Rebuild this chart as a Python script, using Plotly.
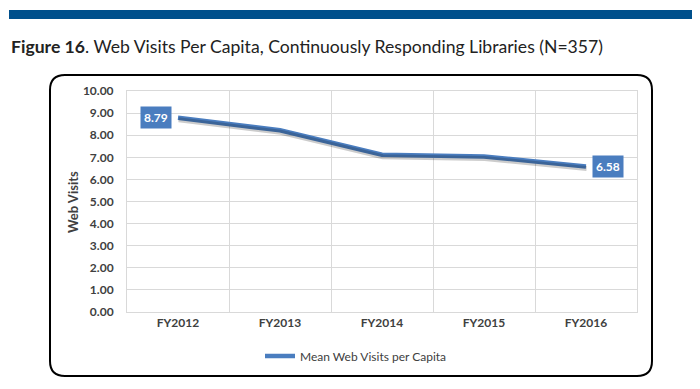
import plotly.graph_objects as go

categories = ["FY2012", "FY2013", "FY2014", "FY2015", "FY2016"]
mean_web_visits = [8.79, 8.22, 7.12, 7.04, 6.58]
y_ticks = [0, 1, 2, 3, 4, 5, 6, 7, 8, 9, 10]
series_name = "Mean Web Visits per Capita"

OFF = 8  # page body margin added by the browser
W, H = 700 - OFF, 389 - OFF
L, R, T, B = 127 - OFF, 637 - OFF, 91 - OFF, 312 - OFF  # plot area (figure px)
pw, ph = R - L, B - T

def px(x):  # reference page x -> paper
    return (x - OFF - L) / pw

def py(y):  # reference page y -> paper
    return (B - (y - OFF)) / ph

LINE = "#4a7dbf"
fig = go.Figure()

# subtle shadow on overlaid axes (same data)
fig.add_trace(go.Scatter(
    x=list(range(len(categories))), y=mean_web_visits, mode="lines",
    line=dict(color="rgba(0,0,0,0.2)", width=5), xaxis="x2", yaxis="y2",
    showlegend=False, hoverinfo="skip"))

fig.add_trace(go.Scatter(
    x=categories, y=mean_web_visits, mode="lines", name=series_name,
    line=dict(color=LINE, width=4.5)))

# rounded outer box
x0, x1, y0, y1, r = 50, 652, 75, 376, 15
def P(x, y):
    return f"{px(x):.5f},{py(y):.5f}"
path = (f"M {P(x0+r,y0)} L {P(x1-r,y0)} Q {P(x1,y0)} {P(x1,y0+r)} "
        f"L {P(x1,y1-r)} Q {P(x1,y1)} {P(x1-r,y1)} L {P(x0+r,y1)} "
        f"Q {P(x0,y1)} {P(x0,y1-r)} L {P(x0,y0+r)} Q {P(x0,y0)} {P(x0+r,y0)} Z")
fig.add_shape(type="path", path=path, xref="paper", yref="paper",
              line=dict(color="#000000", width=2), layer="below")
# top blue bar
fig.add_shape(type="rect", xref="paper", yref="paper",
              x0=px(9), x1=px(693), y0=py(10), y1=py(19),
              fillcolor="#00508c", line=dict(width=0))

# title
fig.add_annotation(xref="paper", yref="paper", x=px(9), y=py(46),
                   xanchor="left", yanchor="middle", showarrow=False,
                   text="<b>Figure 16</b>. Web Visits Per Capita, Continuously Responding Libraries (N=357)",
                   font=dict(family="Lato", size=17.6, color="#222222"))

# y-axis title
fig.add_annotation(xref="paper", yref="paper", x=px(73), y=py(202),
                   xanchor="center", yanchor="middle", showarrow=False,
                   textangle=-90, text="<b>Web Visits</b>",
                   font=dict(family="Lato", size=13, color="#404040"))

# data labels
fig.add_annotation(x=categories[0], y=mean_web_visits[0], xanchor="right",
                   xshift=-6, showarrow=False, text=f"<b>{mean_web_visits[0]:.2f}</b>",
                   bgcolor=LINE, borderpad=3,
                   font=dict(family="Lato", size=12, color="white"))
fig.add_annotation(x=categories[-1], y=mean_web_visits[-1], xanchor="left",
                   xshift=6, showarrow=False, text=f"<b>{mean_web_visits[-1]:.2f}</b>",
                   bgcolor=LINE, borderpad=3,
                   font=dict(family="Lato", size=12, color="white"))

fig.update_layout(
    width=W, height=H, paper_bgcolor="white", plot_bgcolor="white",
    margin=dict(l=L, r=W - R, t=T, b=H - B),
    font=dict(family="Lato", color="#404040"),
    xaxis=dict(type="category", range=[-0.5, 4.5], tickson="boundaries",
               showgrid=True, gridcolor="#d9d9d9", gridwidth=1,
               showline=True, linecolor="#d9d9d9", mirror=True,
               ticks="", ticklen=0, tickfont=dict(size=12, color="#404040"),
               tickprefix="<b>", ticksuffix="</b>", zeroline=False),
    yaxis=dict(range=[0, 10], tickvals=y_ticks,
               ticktext=[f"<b>{v:.2f}</b>" for v in y_ticks],
               showgrid=True, gridcolor="#d9d9d9", gridwidth=1,
               showline=True, linecolor="#d9d9d9", mirror=True,
               tickfont=dict(size=12, color="#404040"), ticklabelstandoff=10,
               zeroline=False),
    xaxis2=dict(overlaying="x", range=[-0.5 - 0.006, 4.5 - 0.006], visible=False),
    yaxis2=dict(overlaying="y", range=[0.09, 10.09], visible=False),
    legend=dict(orientation="h", x=0.5 * (px(267) + px(445)), xanchor="center",
                y=py(356), yanchor="middle", font=dict(size=12, color="#404040"),
                itemwidth=30, bgcolor="rgba(0,0,0,0)"),
    showlegend=True,
)

fig.write_html("out.html")
